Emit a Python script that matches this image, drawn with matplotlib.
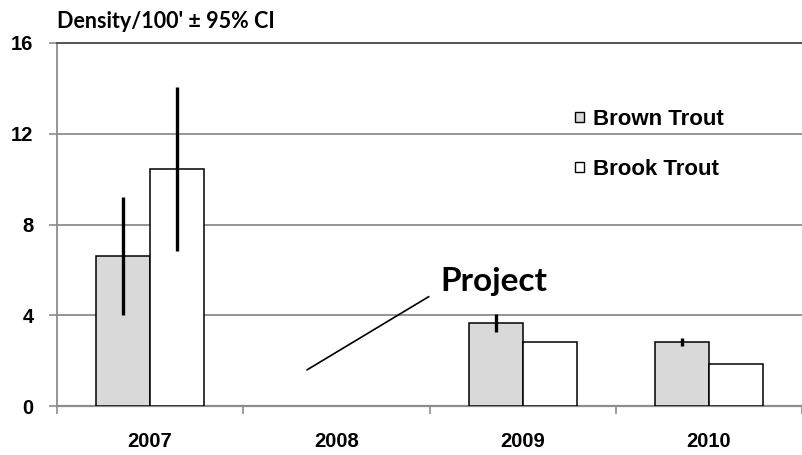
import matplotlib
matplotlib.use("Agg")
import matplotlib.pyplot as plt
import numpy as np

# Trout density per 100 ft of stream, with 95% confidence half-widths
# (no survey in 2008, the project year)
years = ["2007", "2008", "2009", "2010"]
brown_density = [6.6, np.nan, 3.65, 2.82]
brown_ci = [2.6, np.nan, 0.4, 0.17]
brook_density = [10.45, np.nan, 2.83, 1.85]
brook_ci = [3.6, np.nan, np.nan, np.nan]
y_ticks = [0, 4, 8, 12, 16]

BAR_W = 0.29
GRID = "#8c8c8c"
BROWN_FILL = "#d9d9d9"

fig = plt.figure(figsize=(8.02, 4.55), dpi=100)
ax = fig.add_axes([57 / 802, 1 - 406 / 455, 745 / 802, (406 - 43) / 455])

x = np.arange(len(years))
err_kw = dict(ecolor="black", elinewidth=2.4, capsize=0)
ax.bar(x - BAR_W / 2, brown_density, BAR_W, color=BROWN_FILL, edgecolor="black",
       linewidth=1.1, yerr=brown_ci, error_kw=err_kw, label="Brown Trout", zorder=3)
ax.bar(x + BAR_W / 2, brook_density, BAR_W, color="white", edgecolor="black",
       linewidth=1.1, yerr=brook_ci, error_kw=err_kw, label="Brook Trout", zorder=3)

ax.set_xlim(-0.5, len(years) - 0.5)
ax.set_ylim(0, 16)
ax.set_yticks(y_ticks)
ax.set_yticklabels([str(t) for t in y_ticks])

# category labels centred, tick marks on the category boundaries
ax.set_xticks(x)
ax.set_xticklabels(years)
ax.set_xticks(np.arange(-0.5, len(years) - 0.4, 1.0), minor=True)
ax.tick_params(axis="x", which="major", length=0, pad=19)
ax.tick_params(axis="x", which="minor", length=6, width=1.2, color=GRID, direction="out")
ax.tick_params(axis="y", length=6, width=1.2, color=GRID, pad=11)
for lab in ax.get_xticklabels() + ax.get_yticklabels():
    lab.set_family("Liberation Sans")
    lab.set_fontweight("bold")
    lab.set_fontsize(14.5)

ax.yaxis.grid(True, color=GRID, linewidth=1.3, zorder=0)
ax.set_axisbelow(True)
ax.spines["right"].set_visible(False)
ax.spines["left"].set_color(GRID)
ax.spines["left"].set_linewidth(1.3)
ax.spines["bottom"].set_color(GRID)
ax.spines["bottom"].set_linewidth(1.6)
ax.spines["top"].set_color("#555555")
ax.spines["top"].set_linewidth(1.4)

leg = ax.legend(loc="upper left", bbox_to_anchor=(564 / 802, 1 - 98 / 455),
                bbox_transform=fig.transFigure, frameon=False,
                handlelength=0.42, handleheight=0.3, handletextpad=0.4,
                labelspacing=1.3, borderpad=0,
                prop=dict(family="Liberation Sans", weight="bold", size=16))
for h in leg.legend_handles:
    h.set_linewidth(1.0)

ax.annotate("Project", xy=(0.842, 1.59), xytext=(1.556, 5.5),
            ha="left", va="center", fontsize=24, fontweight="bold", family="Lato",
            arrowprops=dict(arrowstyle="-", color="black", lw=1.2,
                            relpos=(0, 0.2), shrinkA=7, shrinkB=0))

fig.text(57 / 802, 1 - 22 / 455, "Density/100' \u00b1 95% CI", ha="left", va="center",
         fontsize=15.5, fontweight="bold", family="Lato")

fig.savefig("out.png", dpi=100)
